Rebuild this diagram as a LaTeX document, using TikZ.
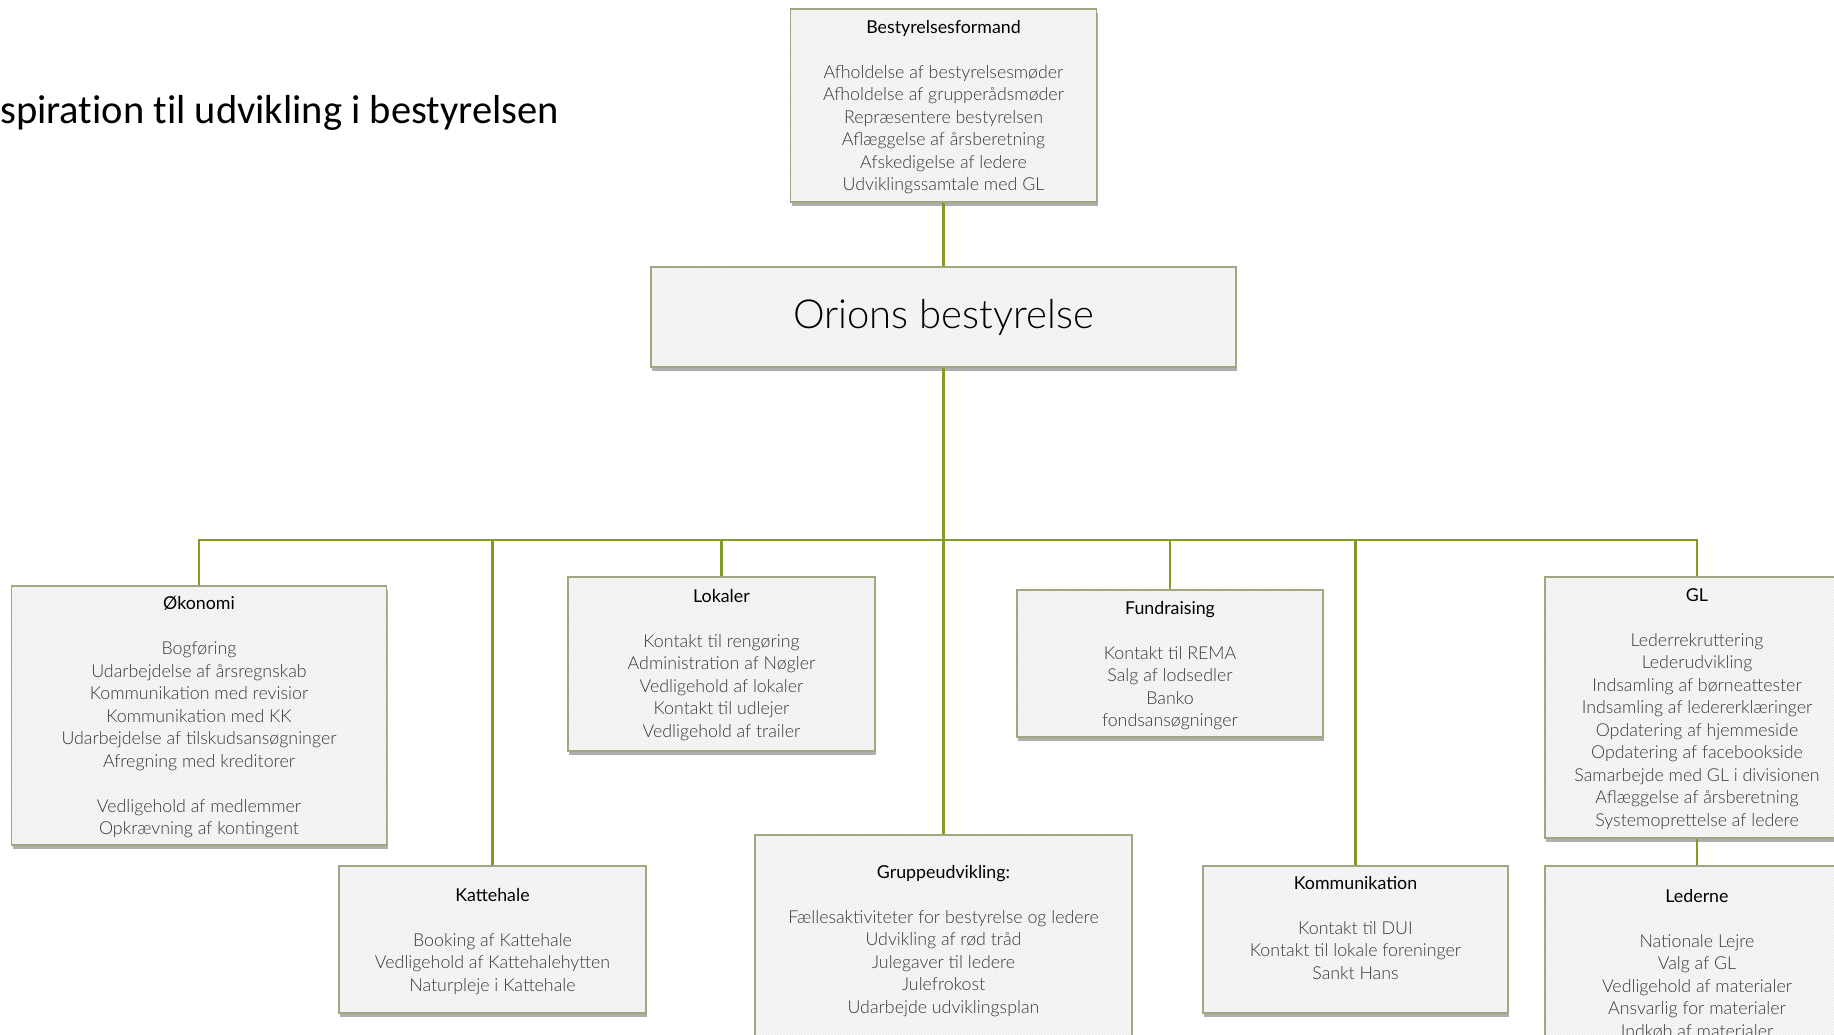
\documentclass[tikz,border=0pt]{standalone}
\usepackage{fontspec}
\setmainfont{Lato}
\newfontfamily\lightfont{Lato Light}
\newfontfamily\calibrifont[Ligatures=NoCommon]{Carlito}
\usetikzlibrary{shadows,patterns}
\definecolor{boxfill}{RGB}{238,238,238}
\definecolor{boxline}{RGB}{160,168,130}
\definecolor{conncol}{RGB}{128,155,40}
\definecolor{itemgray}{RGB}{55,55,55}
\newcommand\boxhead[1]{{\normalfont\color{black}#1}}
\tikzset{
  orgbox/.style={draw=boxline, line width=1.6pt,
    drop shadow={shadow xshift=1pt, shadow yshift=-4pt, opacity=.45, fill=black!70},
    preaction={fill=boxfill},
    pattern=north west lines, pattern color=white,
    inner sep=0pt},
  boxtext/.style={align=center, inner sep=0pt, anchor=north,
    font=\lightfont\fontsize{17.8}{22.5}\selectfont, text=itemgray},
  conn/.style={draw=conncol, line width=2.5pt}
}
\begin{document}
\begin{tikzpicture}[x=1pt,y=-1pt]
\useasboundingbox (0,0) rectangle (1834,1035);
\clip (0,0) rectangle (1834,1035);

\node[anchor=base west, inner sep=0pt, font=\calibrifont\fontsize{40.5}{48}\selectfont] (title) at (0,124) {spiration til udvikling i bestyrelsen};

% boxes
\node[orgbox, minimum width=306pt, minimum height=193pt] (formand) at (943.5,105.5) {};
\node[orgbox, minimum width=585pt, minimum height=100pt] (orion) at (943.5,317) {};
\node[orgbox, minimum width=375pt, minimum height=259pt] (okonomi) at (199,715.5) {};
\node[orgbox, minimum width=307pt, minimum height=174pt] (lokaler) at (721.5,664) {};
\node[orgbox, minimum width=306pt, minimum height=147pt] (fund) at (1170,663.5) {};
\node[orgbox, minimum width=304pt, minimum height=261pt] (gl) at (1697,707.5) {};
\node[orgbox, minimum width=307pt, minimum height=147pt] (katte) at (492.5,939.5) {};
\node[orgbox, minimum width=305pt, minimum height=147pt] (komm) at (1355.5,939.5) {};
\node[orgbox, minimum width=377pt, minimum height=210pt] (gruppe) at (943.5,940) {};
\node[orgbox, minimum width=304pt, minimum height=240pt] (lederne) at (1697,986) {};

% connectors
\coordinate (bus) at (943.5,540);
\draw[conn] (formand.south) -- (orion.north);
\draw[conn] (orion.south) -- (gruppe.north);
\draw[conn] (okonomi.north) |- (bus);
\draw[conn] (katte.north) |- (bus);
\draw[conn] (lokaler.north) |- (bus);
\draw[conn] (fund.north) |- (bus);
\draw[conn] (komm.north) |- (bus);
\draw[conn] (gl.north) |- (bus);
\draw[conn] (gl.south) -- (lederne.north);

% texts
\node[inner sep=0pt, font=\lightfont\fontsize{40}{48}\selectfont, text=black] (oriontxt) at (orion.center) {Orions bestyrelse};

\node[boxtext] (formandtxt) at (943.5,20) {\boxhead{Bestyrelsesformand}\\ \\ Afholdelse af bestyrelsesmøder\\ Afholdelse af grupperådsmøder\\ Repræsentere bestyrelsen\\ Aflæggelse af årsberetning\\ Afskedigelse af ledere\\ Udviklingssamtale med GL};

\node[boxtext] (okonomitxt) at (199,596) {\boxhead{Økonomi}\\ \\ Bogføring\\ Udarbejdelse af årsregnskab\\ Kommunikation med revisior\\ Kommunikation med KK\\ Udarbejdelse af tilskudsansøgninger\\ Afregning med kreditorer\\ \\ Vedligehold af medlemmer\\ Opkrævning af kontingent};

\node[boxtext] (lokalertxt) at (721.5,589) {\boxhead{Lokaler}\\ \\ Kontakt til rengøring\\ Administration af Nøgler\\ Vedligehold af lokaler\\ Kontakt til udlejer\\ Vedligehold af trailer};

\node[boxtext] (fundtxt) at (1170,601) {\boxhead{Fundraising}\\ \\ Kontakt til REMA\\ Salg af lodsedler\\ Banko\\ fondsansøgninger};

\node[boxtext] (gltxt) at (1697,588) {\boxhead{GL}\\ \\ Lederrekruttering\\ Lederudvikling\\ Indsamling af børneattester\\ Indsamling af ledererklæringer\\ Opdatering af hjemmeside\\ Opdatering af facebookside\\ Samarbejde med GL i divisionen\\ Aflæggelse af årsberetning\\ Systemoprettelse af ledere};

\node[boxtext] (kattetxt) at (492.5,888) {\boxhead{Kattehale}\\ \\ Booking af Kattehale\\ Vedligehold af Kattehalehytten\\ Naturpleje i Kattehale};

\node[boxtext] (gruppetxt) at (943.5,865) {\boxhead{Gruppeudvikling:}\\ \\ Fællesaktiviteter for bestyrelse og ledere\\ Udvikling af rød tråd\\ Julegaver til ledere\\ Julefrokost\\ Udarbejde udviklingsplan};

\node[boxtext] (kommtxt) at (1355.5,876) {\boxhead{Kommunikation}\\ \\ Kontakt til DUI\\ Kontakt til lokale foreninger\\ Sankt Hans};

\node[boxtext] (lederntxt) at (1697,889) {\boxhead{Lederne}\\ \\ Nationale Lejre\\ Valg af GL\\ Vedligehold af materialer\\ Ansvarlig for materialer\\ Indkøb af materialer};
\end{tikzpicture}
\end{document}
